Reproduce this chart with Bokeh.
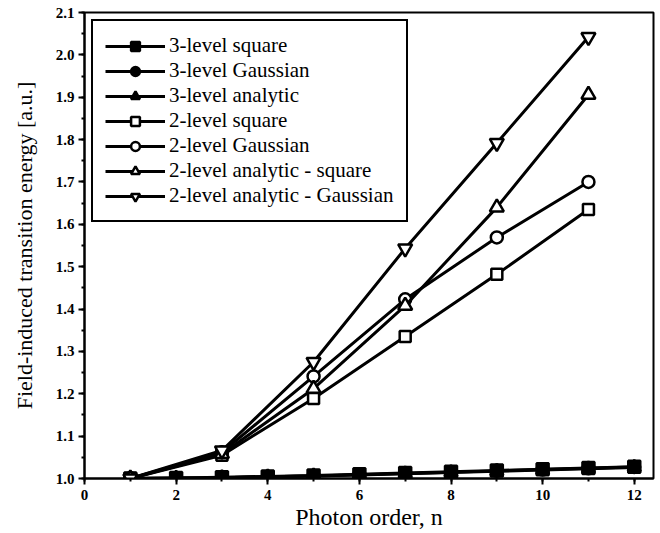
from bokeh.plotting import figure
from bokeh.models import Range1d, NumeralTickFormatter, Legend, LegendItem, SingleIntervalTicker
from bokeh.embed import file_html
from bokeh.resources import INLINE

# photon orders
n_three = [1, 2, 3, 4, 5, 6, 7, 8, 9, 10, 11, 12]
n_two = [1, 3, 5, 7, 9, 11]

# three-level model
three_square = [1.000, 1.001, 1.003, 1.005, 1.007, 1.010, 1.013, 1.016, 1.019, 1.022, 1.025, 1.028]
three_gauss = [1.000, 1.001, 1.002, 1.004, 1.006, 1.009, 1.012, 1.015, 1.018, 1.021, 1.024, 1.027]
three_analytic = [1.000, 1.001, 1.002, 1.004, 1.006, 1.008, 1.011, 1.014, 1.017, 1.020, 1.023, 1.026]

# two-level model
two_square = [1.000, 1.055, 1.189, 1.335, 1.482, 1.635]
two_gauss = [1.000, 1.062, 1.241, 1.423, 1.569, 1.700]
two_analytic_square = [1.000, 1.058, 1.212, 1.408, 1.640, 1.906]
two_analytic_gauss = [1.000, 1.066, 1.275, 1.543, 1.792, 2.042]

labels = [
    "3-level square",
    "3-level Gaussian",
    "3-level analytic",
    "2-level square",
    "2-level Gaussian",
    "2-level analytic - square",
    "2-level analytic - Gaussian",
]

SERIF = "Liberation Serif"

p = figure(
    width=660, height=533,
    output_backend="svg", toolbar_location=None,
    x_range=Range1d(0, 12.42), y_range=Range1d(1.0, 2.1),
    min_border_left=84, min_border_right=7, min_border_top=12, min_border_bottom=55,
)
p.background_fill_color = "white"
p.border_fill_color = "white"
p.outline_line_color = "black"
p.outline_line_width = 2
p.outline_line_alpha = 1.0
p.xgrid.visible = False
p.ygrid.visible = False

p.xaxis.ticker = SingleIntervalTicker(interval=2, num_minor_ticks=2)
p.yaxis.ticker = SingleIntervalTicker(interval=0.1, num_minor_ticks=2)
p.yaxis.formatter = NumeralTickFormatter(format="0.0")

for ax in (p.xaxis[0], p.yaxis[0]):
    ax.axis_line_width = 2
    ax.axis_line_color = "black"
    ax.major_tick_line_width = 2
    ax.minor_tick_line_width = 2
    ax.major_tick_in = 0
    ax.major_tick_out = 6
    ax.minor_tick_in = 0
    ax.minor_tick_out = 3
    ax.major_label_text_font = SERIF
    ax.major_label_text_font_style = "bold"
    ax.major_label_text_font_size = "15px"
    ax.major_label_text_color = "black"
    ax.axis_label_text_font = SERIF
    ax.axis_label_text_font_style = "normal"
    ax.axis_label_text_color = "black"

p.xaxis.axis_label = "Photon order, n"
p.xaxis.axis_label_text_font_size = "24px"
p.xaxis.major_label_standoff = 5
p.xaxis.axis_label_standoff = 1
p.yaxis.axis_label = "Field-induced transition energy [a.u.]"
p.yaxis.axis_label_text_font_size = "22px"
p.yaxis.major_label_standoff = 4
p.yaxis.axis_label_standoff = 16

LW = 3
items = []

def series(x, y, marker, filled, size, label):
    ln = p.line(x, y, line_color="black", line_width=LW)
    sc = p.scatter(
        x, y, marker=marker, size=size,
        line_color="black", line_width=2.5,
        fill_color="black" if filled else "white",
    )
    items.append(LegendItem(label=label, renderers=[ln, sc]))

series(n_three, three_square, "square", True, 12, labels[0])
series(n_three, three_gauss, "circle", True, 12, labels[1])
series(n_three, three_analytic, "triangle", True, 13, labels[2])
series(n_two, two_square, "square", False, 11, labels[3])
series(n_two, two_gauss, "circle", False, 12, labels[4])
series(n_two, two_analytic_square, "triangle", False, 14, labels[5])
series(n_two, two_analytic_gauss, "inverted_triangle", False, 14, labels[6])

legend = Legend(
    items=items, location="top_left",
    margin=7, padding=12, spacing=0,
    glyph_width=60, glyph_height=22, label_height=22, label_standoff=4,
    label_text_font=SERIF, label_text_font_size="21px", label_text_color="black",
    border_line_color="black", border_line_width=2, border_line_alpha=1.0,
    background_fill_color="white", background_fill_alpha=1.0,
)
p.add_layout(legend)

open("out.html", "w").write(file_html(p, INLINE))
